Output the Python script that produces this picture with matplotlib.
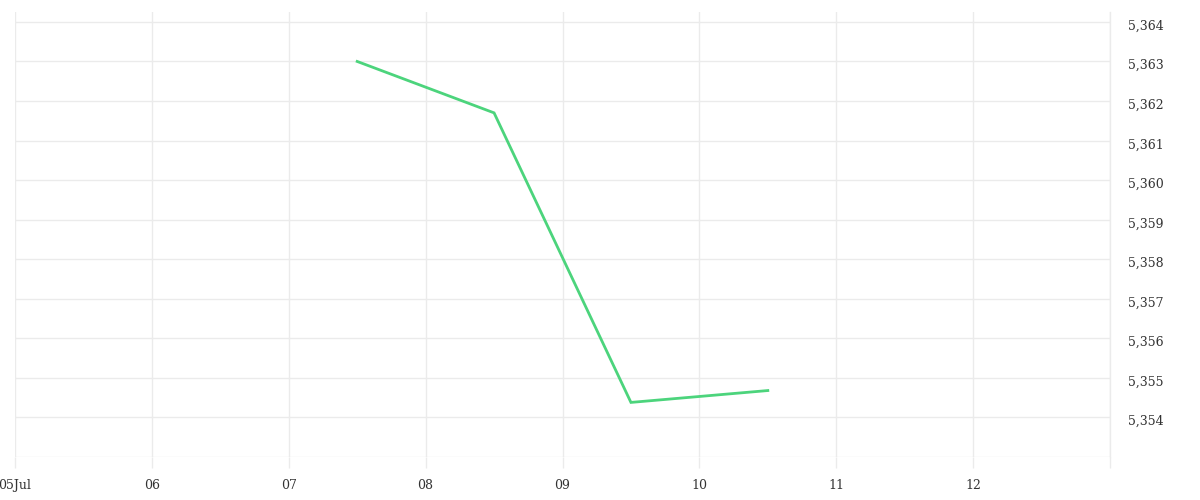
import matplotlib
matplotlib.use('Agg')
import matplotlib.pyplot as plt
import matplotlib.transforms as mtransforms
from matplotlib.ticker import FuncFormatter
import pandas as pd

# data
times = pd.to_datetime(['2024-07-07 12:00', '2024-07-08 12:00',
                        '2024-07-09 12:00', '2024-07-10 12:00'])
values = [5.3630, 5.3617, 5.35438, 5.35468]

tick_days = pd.date_range('2024-07-05', '2024-07-13', freq='D')
tick_labels = ['05Jul', '06', '07', '08', '09', '10', '11', '12', '']
y_ticks = [5.354, 5.355, 5.356, 5.357, 5.358, 5.359, 5.360, 5.361, 5.362, 5.363, 5.364]

grid_col = '#ebebeb'
text_col = '#333333'

plt.rcParams['font.family'] = ['DejaVu Serif']

fig = plt.figure(figsize=(12, 5), dpi=100)
ax = fig.add_axes([0.0125, 0.086, 0.9125, 0.890])

ax.plot(times, values, color='#4cd47c', linewidth=2.0, solid_joinstyle='miter')

ax.set_xlim(tick_days[0], tick_days[-1])
ax.set_ylim(5.353, 5.36425)

ax.set_xticks(tick_days)
ax.set_xticklabels(tick_labels)
ax.set_yticks(y_ticks)
ax.yaxis.set_major_formatter(FuncFormatter(lambda v, p: f'{v:.3f}'.replace('.', ',')))
ax.yaxis.tick_right()

ax.grid(True, color=grid_col, linewidth=1)
ax.axhline(5.353, color=grid_col, linewidth=1, zorder=0)
ax.axvline(tick_days[-1], color=grid_col, linewidth=1, zorder=0, clip_on=False)
for s in ax.spines.values():
    s.set_visible(False)

ax.tick_params(axis='x', length=8, width=1, color=grid_col, labelsize=9,
               labelcolor=text_col, pad=8)
ax.tick_params(axis='y', length=0, labelsize=9, labelcolor=text_col, pad=13)

# nudge y labels a bit below their grid lines
shift = mtransforms.ScaledTranslation(0, -2 / 72, fig.dpi_scale_trans)
for lbl in ax.get_yticklabels():
    lbl.set_transform(lbl.get_transform() + shift)

fig.savefig('out.png', dpi=100)
plt.close()
